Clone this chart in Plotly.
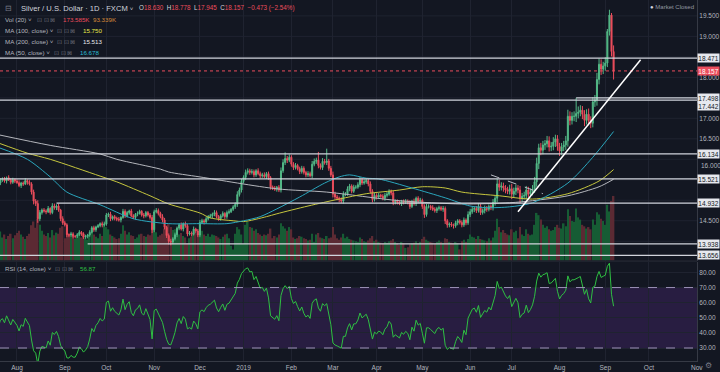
import plotly.graph_objects as go
import pandas as pd

# ---------------- data ----------------
start_date = "2018-07-02"          # first daily bar (weekdays)
first_open = 15.95

closes = [
    15.92, 15.98, 16.02, 15.98, 16.05, 15.96, 15.92, 15.82, 15.85, 15.80, 15.76, 15.62, 15.55,
    15.42, 15.50,
    15.52, 15.47, 15.55, 15.50, 15.44,
    15.50, 15.47, 15.43, 15.36, 15.42,
    15.40, 15.48, 15.44, 15.40, 15.20,
    14.98, 14.92, 14.55, 14.70, 14.76,
    14.74, 14.72, 14.80, 14.70, 14.86,
    14.82, 14.86, 14.76, 14.55, 14.45,
    14.40, 14.16, 14.15, 14.18, 14.12,
    14.12, 14.16, 14.22, 14.18, 14.10,
    14.12, 14.15, 14.22, 14.33, 14.28,
    14.35, 14.38, 14.43, 14.40, 14.42,
    14.64, 14.66, 14.55, 14.60, 14.56,
    14.54, 14.52, 14.58, 14.73, 14.62,
    14.70, 14.74, 14.62, 14.58, 14.66,
    14.68, 14.73, 14.64, 14.62, 14.70,
    14.64, 14.58, 14.28, 14.72, 14.75,
    14.68, 14.60, 14.52, 14.34, 14.14,
    14.00, 13.98, 14.06, 14.16, 14.32,
    14.40, 14.30, 14.43, 14.38, 14.18,
    14.20, 14.17, 14.30, 14.25, 14.15,
    14.46, 14.50, 14.47, 14.55, 14.60,
    14.62, 14.66, 14.70, 14.60, 14.55,
    14.62, 14.68, 14.60, 14.70, 14.72,
    14.78, 14.84, 14.90, 15.14, 15.25,
    15.46, 15.56, 15.68, 15.72, 15.68,
    15.70, 15.62, 15.72, 15.65, 15.60,
    15.62, 15.58, 15.65, 15.55, 15.32,
    15.30, 15.27, 15.32, 15.25, 15.72,
    15.92, 16.02, 15.98, 16.05, 15.88,
    15.80, 15.85, 15.77, 15.70, 15.78,
    15.68, 15.62, 15.65, 15.60, 15.88,
    15.95, 15.98, 15.85, 15.80, 15.95,
    15.92, 15.96, 15.78, 15.62, 15.15,
    15.08, 15.05, 15.02, 14.98, 15.15,
    15.15, 15.28, 15.35, 15.22, 15.32,
    15.32, 15.38, 15.50, 15.42, 15.45,
    15.48, 15.40, 15.22, 15.02, 15.12,
    15.08, 15.12, 15.10, 15.05, 15.12,
    15.15, 15.22, 15.18, 14.95, 14.98,
    14.95, 14.92, 14.98, 14.95, 14.98,
    14.95, 14.85, 14.98, 14.92, 15.05,
    14.98, 15.00, 14.85, 14.65, 14.85,
    14.85, 14.82, 14.78, 14.75, 14.80,
    14.82, 14.78, 14.80, 14.50, 14.40,
    14.42, 14.40, 14.38, 14.45, 14.50,
    14.46, 14.40, 14.52, 14.45, 14.65,
    14.72, 14.78, 14.80, 14.75, 14.85,
    14.70, 14.75, 14.80, 14.78, 14.85,
    14.82, 14.95, 15.05, 15.40, 15.32,
    15.35, 15.30, 15.25, 15.22, 15.28,
    15.15, 15.22, 15.30, 15.25, 15.05,
    15.10, 15.12, 15.25, 15.15, 15.20,
    15.28, 15.45, 15.90, 16.28, 16.22,
    16.35, 16.38, 16.45, 16.30, 16.32,
    16.42, 16.50, 16.32, 16.20, 16.30,
    16.35, 16.45, 17.05, 16.95, 17.05,
    17.05, 17.12, 17.15, 17.20, 17.10,
    16.95, 17.10, 16.95, 16.88, 17.40,
    17.45, 17.95, 18.32, 18.20, 18.28,
    18.35, 19.12, 19.52, 18.63, 18.157,
]

# wick lengths above / below the candle body, in cents
hi_wick = [
    5, 4, 6, 3, 5, 4, 6, 5, 3, 4, 5, 6, 4,
    6, 4,
    4, 5, 3, 6, 4,  5, 3, 4, 6, 3,  4, 6, 3, 5, 4,  6, 5, 8, 6, 4,
    5, 4, 6, 3, 7,  6, 4, 5, 3, 6,  5, 4, 3, 5, 4,  3, 4, 5, 3, 4,
    4, 3, 5, 4, 5,  3, 4, 3, 5, 6,  5, 4, 6, 3, 4,  4, 5, 3, 6, 5,
    4, 3, 5, 4, 3,  5, 4, 3, 5, 4,  4, 5, 6, 5, 6,  5, 4, 6, 5, 4,
    5, 6, 4, 5, 4,  4, 6, 3, 5, 4,  5, 4, 6, 3, 5,  6, 5, 4, 5, 4,
    5, 4, 6, 5, 4,  4, 5, 3, 5, 6,  3, 4, 5, 8, 6,  6, 5, 7, 6, 5,
    6, 5, 4, 6, 5,  5, 6, 4, 5, 4,  4, 5, 3, 5, 8,  8, 15, 6, 7, 5,
    5, 6, 4, 5, 6,  5, 4, 6, 5, 8,  7, 6, 20, 5, 8,  6, 30, 5, 6, 8,
    6, 5, 4, 5, 7,  5, 6, 5, 4, 6,  5, 6, 7, 5, 6,  5, 4, 6, 5, 6,
    5, 6, 4, 5, 6,  6, 5, 4, 5, 4,  4, 5, 3, 4, 5,  4, 5, 3, 6, 4,
    5, 6, 4, 5, 6,  5, 4, 6, 5, 4,  5, 4, 6, 5, 4,  4, 5, 3, 5, 4,
    4, 5, 6, 4, 8,  7, 6, 5, 6, 8,  6, 5, 7, 6, 5,  5, 8, 7, 12, 10,
    9, 8, 7, 8, 10,  12, 9, 8, 7, 10,  8, 9, 10, 8, 9,  9, 12, 14, 10, 12,
    10, 9, 12, 11, 10,  12, 10, 9, 8, 10,  10, 12, 16, 12, 10,  12, 38, 14, 12, 10,
    10, 12, 14, 10, 12,  12, 16, 14, 12, 10,  14, 6, 13, 5, 15,
]
lo_wick = [
    4, 5, 3, 6, 4, 5, 3, 4, 6, 5, 4, 3, 5,
    8, 5,
    5, 4, 6, 3, 5,  4, 5, 3, 4, 6,  5, 3, 6, 4, 6,  8, 6, 10, 6, 5,
    4, 6, 3, 5, 4,  5, 6, 4, 6, 5,  4, 6, 5, 4, 5,  5, 4, 3, 5, 4,
    4, 5, 4, 3, 5,  5, 3, 4, 6, 4,  4, 5, 6, 4, 5,  5, 4, 6, 3, 5,
    4, 5, 3, 4, 5,  5, 3, 4, 6, 4,  4, 5, 8, 6, 4,  5, 4, 6, 5, 6,
    8, 8, 5, 4, 6,  5, 4, 6, 5, 6,  4, 5, 3, 6, 5,  5, 4, 6, 5, 4,
    4, 6, 5, 4, 5,  5, 4, 6, 5, 4,  3, 4, 5, 6, 5,  6, 5, 6, 5, 6,
    5, 6, 5, 4, 6,  5, 4, 6, 5, 6,  5, 4, 6, 5, 6,  5, 6, 7, 5, 6,
    6, 5, 4, 6, 5,  5, 6, 5, 4, 6,  5, 6, 7, 5, 6,  5, 6, 6, 5, 8,
    6, 5, 7, 5, 6,  5, 4, 6, 5, 4,  5, 4, 6, 5, 4,  5, 6, 5, 7, 5,
    6, 5, 4, 5, 6,  5, 4, 6, 7, 5,  5, 4, 6, 5, 4,  5, 6, 4, 5, 6,
    5, 4, 6, 8, 5,  5, 6, 4, 5, 6,  5, 4, 6, 8, 7,  6, 5, 7, 5, 6,
    5, 6, 5, 6, 5,  6, 5, 7, 6, 5,  6, 5, 7, 6, 5,  6, 7, 8, 10, 9,
    8, 9, 8, 7, 8,  12, 8, 9, 8, 12,  9, 8, 10, 9, 8,  8, 10, 12, 14, 12,
    10, 12, 9, 11, 10,  10, 12, 11, 12, 10,  10, 12, 14, 12, 10,  12, 14, 12, 10, 12,
    14, 10, 12, 12, 10,  12, 14, 12, 14, 12,  12, 10, 10, 12, 21,
]

# daily volume, thousands
volume_k = [
    70, 66, 72, 60, 68, 74, 70, 62, 66, 72, 68, 76, 80,
    85, 78,
    62, 70, 58, 66, 72,  60, 68, 74, 80, 70,  64, 58, 66, 72, 95,  105, 88, 112, 96, 80,
    70, 66, 74, 62, 82,  68, 75, 72, 88, 92,  60, 90, 72, 66, 70,  58, 64, 70, 62, 74,
    60, 56, 68, 78, 70,  64, 60, 72, 66, 98,  90, 84, 70, 66, 62,  58, 60, 72, 95, 80,
    70, 76, 68, 66, 58,  62, 70, 72, 66, 64,  70, 68, 90, 102, 76,  64, 68, 72, 86, 92,
    98, 90, 82, 84, 88,  70, 74, 66, 62, 46,  60, 64, 70, 72, 68,  88, 80, 70, 66, 72,
    64, 70, 68, 66, 62,  58, 64, 70, 72, 60,  40, 30, 72, 90, 84,  70, 45, 96, 104, 90,
    88, 80, 84, 74, 70,  66, 70, 68, 72, 86,  60, 66, 62, 70, 100,  92, 86, 80, 90, 84,
    62, 58, 60, 66, 64,  60, 58, 54, 56, 72,  50, 70, 74, 62, 60,  58, 66, 60, 62, 90,
    70, 60, 56, 62, 72,  60, 64, 58, 56, 54,  52, 50, 62, 58, 52,  50, 54, 60, 66, 52,
    56, 50, 48, 46, 50,  48, 52, 54, 58, 50,  46, 42, 50, 46, 34,  36, 44, 46, 48, 52,
    46, 50, 58, 64, 56,  52, 50, 48, 46, 50,  54, 50, 48, 60, 58,  50, 48, 46, 50, 46,
    30, 52, 56, 50, 58,  70, 64, 62, 58, 66,  58, 56, 54, 52, 60,  54, 62, 80, 112, 90,
    76, 82, 74, 70, 68,  84, 76, 80, 60, 90,  70, 66, 84, 72, 68,  70, 96, 128, 122, 110,
    96, 88, 92, 84, 80,  82, 90, 96, 88, 86,  100, 92, 138, 120, 106,  104, 140, 116, 110, 96,
    92, 86, 90, 84, 110,  96, 130, 124, 112, 106,  96, 150, 132, 160, 173.585,
]

# moving averages
ma50_dates = ["2018-07-19", "2018-08-08", "2018-08-23", "2018-09-04", "2018-09-26", "2018-10-18",
              "2018-11-12", "2018-12-03", "2018-12-20", "2019-01-01", "2019-01-11", "2019-01-23",
              "2019-02-07", "2019-02-25", "2019-03-06", "2019-03-13", "2019-03-25", "2019-04-02",
              "2019-04-24", "2019-05-16", "2019-06-03", "2019-06-13", "2019-06-28", "2019-07-15",
              "2019-08-07", "2019-08-23", "2019-09-06"]
ma50_vals = [16.29, 16.00, 15.57, 15.20, 14.89, 14.55, 14.43, 14.43, 14.43, 14.50, 14.60, 14.79,
             15.08, 15.42, 15.57, 15.62, 15.54, 15.52, 15.30, 15.06, 14.86, 14.82, 14.84, 14.94,
             15.42, 16.05, 16.678]
ma100_dates = ["2018-07-19", "2018-08-08", "2018-08-23", "2018-09-26", "2018-10-08", "2018-10-30",
               "2018-11-12", "2018-12-03", "2018-12-10", "2018-12-25", "2019-01-01", "2019-01-16",
               "2019-01-23", "2019-02-13", "2019-03-06", "2019-03-25", "2019-04-16", "2019-05-01",
               "2019-05-16", "2019-05-28", "2019-06-21", "2019-07-15", "2019-08-07", "2019-08-28",
               "2019-09-06"]
ma100_vals = [16.40, 16.15, 16.00, 15.59, 15.45, 15.11, 14.91, 14.69, 14.57, 14.50, 14.48, 14.60,
              14.67, 14.86, 15.03, 15.16, 15.25, 15.33, 15.30, 15.20, 15.11, 15.03, 15.16, 15.47,
              15.75]
ma200_dates = ["2018-07-19", "2018-08-23", "2018-09-26", "2018-10-08", "2018-11-06", "2018-11-12",
               "2018-12-03", "2019-01-23", "2019-02-26", "2019-04-16", "2019-05-28", "2019-06-28",
               "2019-07-15", "2019-08-07", "2019-08-28", "2019-09-06"]
ma200_vals = [16.60, 16.34, 16.13, 16.00, 15.76, 15.69, 15.57, 15.28, 15.20, 14.99, 14.91, 14.94,
              14.99, 15.11, 15.33, 15.513]

month_ticks = ["2018-08-01", "2018-09-03", "2018-10-01", "2018-11-01", "2018-12-03", "2019-01-01",
               "2019-02-01", "2019-03-01", "2019-04-01", "2019-05-01", "2019-06-03", "2019-07-01",
               "2019-08-01", "2019-09-02", "2019-10-01", "2019-11-01"]
month_labels = ["Aug", "Sep", "Oct", "Nov", "Dec", "2019", "Feb", "Mar", "Apr", "May", "Jun", "Jul",
                "Aug", "Sep", "Oct", "Nov"]

price_grid = [13.5, 14.0, 14.5, 15.0, 15.5, 16.0, 16.5, 17.0, 17.5, 18.0, 18.5, 19.0, 19.5]
price_tick_labels = [14.5, 16.5, 17.0, 18.0, 19.0, 19.5]   # the ones not hidden by level boxes
partly_hidden_tick = 16.0                                 # peeks out just below the 16.134 box
rsi_ticks = [30, 40, 50, 60, 70, 80]

full_levels = [18.471, 17.442, 16.134, 15.521, 13.656]
partial_levels = [17.498, 14.932, 13.938]
partial_starts = ["2019-08-13", "2018-08-28", "2018-09-18"]
last_price = 18.157

trend_dates = ["2019-07-04", "2019-09-25"]
trend_prices = [14.72, 18.43]
dash_dates = ["2019-06-17", "2019-07-22"]
dash_prices = [15.62, 15.16]

# ---------------- derived ----------------
dates = pd.bdate_range(start_date, periods=len(closes))
opens = [first_open] + closes[:-1]
highs = [max(o, c) + h / 100 for o, c, h in zip(opens, closes, hi_wick)]
lows = [min(o, c) - l / 100 for o, c, l in zip(opens, closes, lo_wick)]

s = pd.Series(closes)
d = s.diff()
up = d.clip(lower=0).ewm(alpha=1 / 14, adjust=False).mean()
dn = (-d.clip(upper=0)).ewm(alpha=1 / 14, adjust=False).mean()
rsi = 100 - 100 / (1 + up / dn)

UP, DOWN = "#53b987", "#eb4d5c"
vol_colors = ["#165c34" if c >= o else "#5b2a33" for o, c in zip(opens, closes)]

BG = "#131722"
GRID = "#1f2330"
TXT = "#b2b5be"
FONT = "Liberation Sans"
X0, X1 = "2018-07-19 20:00", "2019-11-01 03:00"
RB = [dict(bounds=["sat", "mon"])]
PH = 363.0  # plot height px


def px(x):
    return x / 697.0


def py(y):
    return 1 - y / PH


fig = go.Figure()

fig.add_trace(go.Bar(x=dates, y=volume_k, marker=dict(color=vol_colors, line=dict(width=0)),
                     xaxis="x2", yaxis="y2", hoverinfo="skip"))
fig.add_trace(go.Candlestick(x=dates, open=opens, high=highs, low=lows, close=closes,
                             xaxis="x2", yaxis="y3", whiskerwidth=0,
                             increasing=dict(line=dict(color=UP, width=1), fillcolor=UP),
                             decreasing=dict(line=dict(color=DOWN, width=1), fillcolor=DOWN)))
for dts, vals, col in [(ma200_dates, ma200_vals, "#b4b6bc"),
                       (ma100_dates, ma100_vals, "#c6c63e"),
                       (ma50_dates, ma50_vals, "#2aa6bd")]:
    fig.add_trace(go.Scatter(x=dts, y=vals, mode="lines", line=dict(color=col, width=1, shape="spline",
                                                                    smoothing=0.8),
                             xaxis="x2", yaxis="y3", hoverinfo="skip"))
fig.add_trace(go.Scatter(x=dates, y=rsi, mode="lines", line=dict(color="#2fc043", width=1),
                         xaxis="x", yaxis="y", hoverinfo="skip"))

shapes = []
# price grid lines (drawn as shapes so that hidden labels keep their grid line)
for g in price_grid:
    shapes.append(dict(type="line", xref="paper", yref="y3", x0=0, x1=1, y0=g, y1=g,
                       line=dict(color=GRID, width=1), layer="below"))
# RSI band and bounds
shapes.append(dict(type="rect", xref="x domain", yref="y", x0=0, x1=1, y0=30, y1=70,
                   fillcolor="rgba(150,60,220,0.17)", line=dict(width=0), layer="below"))
for lv in (70, 30):
    shapes.append(dict(type="line", xref="x domain", yref="y", x0=0, x1=1, y0=lv, y1=lv,
                       line=dict(color="#9d92b8", width=1, dash="dash")))
# pane separator
shapes.append(dict(type="line", xref="paper", yref="paper", x0=0, x1=1, y0=py(262.5), y1=py(262.5),
                   line=dict(color="#2a2e39", width=1)))
# horizontal levels
for lv in full_levels:
    shapes.append(dict(type="line", xref="paper", yref="y3", x0=0, x1=1, y0=lv, y1=lv,
                       line=dict(color="#d1d4dc", width=1.3)))
for lv, st in zip(partial_levels, partial_starts):
    shapes.append(dict(type="line", xref="x2", yref="y3", x0=st, x1=X1, y0=lv, y1=lv,
                       line=dict(color="#d1d4dc", width=1.3)))
shapes.append(dict(type="line", xref="paper", yref="y3", x0=0, x1=1, y0=last_price, y1=last_price,
                   line=dict(color=DOWN, width=1, dash="dot")))
# trend lines
shapes.append(dict(type="line", xref="x2", yref="y3", x0=trend_dates[0], x1=trend_dates[1],
                   y0=trend_prices[0], y1=trend_prices[1], line=dict(color="#ffffff", width=1.5)))
shapes.append(dict(type="line", xref="x2", yref="y3", x0=dash_dates[0], x1=dash_dates[1],
                   y0=dash_prices[0], y1=dash_prices[1], line=dict(color="#b8bbc4", width=1, dash="dash")))

ann = []
# partly hidden 16.000 axis label, nudged just below the 16.134 box
ann.append(dict(xref="paper", yref="y3", x=1, y=partly_hidden_tick, xanchor="left", yanchor="top",
                text=f"{partly_hidden_tick:.3f}", showarrow=False, xshift=2, yshift=-1,
                font=dict(family=FONT, size=6.5, color=TXT)))
# price axis labels for levels
box_levels = full_levels + partial_levels
for lv in box_levels:
    ann.append(dict(xref="paper", yref="y3", x=1, y=lv, xanchor="left", yanchor="middle",
                    text=f"{lv:.3f}", showarrow=False, bgcolor="#e6e8ee", width=21, height=8,
                    borderpad=0, yshift=-6 if lv == 17.442 else 0,
                    font=dict(family=FONT, size=6.5, color="#131722")))
ann.append(dict(xref="paper", yref="y3", x=1, y=last_price, xanchor="left", yanchor="middle",
                text=f"{last_price:.3f}", showarrow=False, bgcolor=DOWN, width=21, height=8, borderpad=0,
                font=dict(family=FONT, size=6.5, color="#ffffff")))


def txt(x, y, t, size=6.2, color=TXT):
    ann.append(dict(xref="paper", yref="paper", x=px(x), y=py(y), xanchor="left", yanchor="middle",
                    text=t, showarrow=False, font=dict(family=FONT, size=size, color=color)))


ICON = "<span style='color:#6a6d78'>⊡ ⊡ ⊠</span>"
txt(3, 8.5, "<span style='color:#787b86'>⊟</span>", size=8)
txt(19, 8.5, "Silver / U.S. Dollar · 1D · FXCM <span style='font-size:6px'>˅</span>", size=7.6, color="#d1d4dc")
R = DOWN
txt(137, 8.5, f"O<span style='color:{R}'>18.630</span>  H<span style='color:{R}'>18.778</span>  "
              f"L<span style='color:{R}'>17.945</span>  C<span style='color:{R}'>18.157</span>  "
              f"<span style='color:{R}'>−0.473 (−2.54%)</span>", size=6.3, color="#d1d4dc")
txt(3, 20, "Vol (20) ˅", color=TXT)
txt(35, 20, ICON, size=6)
txt(61, 20, f"<span style='color:{R}'>173.585K</span>  <span style='color:#d88b3a'>93.339K</span>")
txt(3, 31, "MA (100, close) ˅")
txt(55, 31, ICON, size=6)
txt(81, 31, "<span style='color:#e8e84a'>15.750</span>")
txt(3, 42, "MA (200, close) ˅")
txt(55, 42, ICON, size=6)
txt(81, 42, "<span style='color:#e8e9ee'>15.513</span>")
txt(3, 53, "MA (50, close) ˅")
txt(52, 53, ICON, size=6)
txt(78, 53, "<span style='color:#2bbcd2'>16.678</span>")
txt(3, 270, "RSI (14, close) ˅")
txt(53, 270, ICON, size=6)
txt(78, 270, "<span style='color:#2fc043'>56.87</span>")
ann.append(dict(xref="paper", yref="paper", x=px(696), y=py(7.5), xanchor="right", yanchor="middle",
                text="<span style='color:#d1d4dc'>●</span> Market Closed", showarrow=False,
                font=dict(family=FONT, size=6, color="#9598a1")))
ann.append(dict(xref="paper", yref="paper", x=px(708), y=py(367.5), xanchor="center", yanchor="middle",
                text="⚙", showarrow=False, font=dict(family="DejaVu Sans", size=8, color="#787b86")))

xcommon = dict(type="date", range=[X0, X1], rangebreaks=RB, tickvals=month_ticks, ticktext=month_labels,
               showgrid=True, gridcolor=GRID, gridwidth=1, zeroline=False, ticks="",
               rangeslider=dict(visible=False), fixedrange=True)

fig.update_layout(
    width=720, height=372, margin=dict(l=0, r=23, t=0, b=9),
    paper_bgcolor=BG, plot_bgcolor=BG, showlegend=False, bargap=0.25,
    font=dict(family=FONT, size=6.5, color=TXT),
    xaxis=dict(domain=[0, 1], anchor="y", showticklabels=True,
               tickfont=dict(family=FONT, size=6.5, color=TXT),
               showline=True, linecolor="#363a45", **xcommon),
    xaxis2=dict(domain=[0, 1], anchor="y2", matches="x", showticklabels=False, **xcommon),
    yaxis=dict(domain=[0, 1 - 263 / PH], anchor="x", range=[21.4, 87.2], side="right",
               tickvals=rsi_ticks, tickformat=".2f", showgrid=True, gridcolor=GRID, zeroline=False,
               ticks="", tickfont=dict(family=FONT, size=6.5, color=TXT), showline=True,
               linecolor="#363a45", fixedrange=True),
    yaxis2=dict(domain=[1 - 262 / PH, 1], anchor="x2", range=[0, 700], visible=False, fixedrange=True),
    yaxis3=dict(overlaying="y2", anchor="x2", side="right", range=[13.529, 19.888],
                tickvals=price_tick_labels, tickformat=".3f", showgrid=False, zeroline=False,
                ticks="", tickfont=dict(family=FONT, size=6.5, color=TXT), showline=True,
                linecolor="#363a45", fixedrange=True),
    shapes=shapes, annotations=ann,
)

fig.write_html("out.html", config={"displayModeBar": False},
               post_script="document.body.style.margin='0px';document.body.style.overflow='hidden';")
